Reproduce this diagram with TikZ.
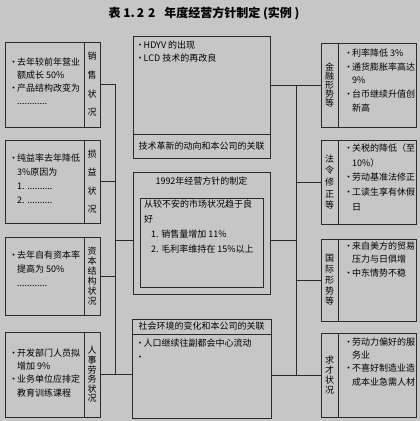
\documentclass[tikz,border=0pt]{standalone}
\usepackage{fontspec}
\setmainfont{Noto Sans CJK SC}
\newcommand\bl{\makebox[7pt][c]{·}}
\newcommand\hg{\hspace*{7pt}}
\newcommand\tightlines{\lineskiplimit=-10pt\relax}
\definecolor{bg}{HTML}{C6C6C6}
\definecolor{ln}{HTML}{2A2A2A}
\tikzset{
  bx/.style={draw=ln, line width=0.8pt, rectangle, inner sep=0pt},
  txt/.style={anchor=north west, align=left, inner sep=0pt},
  lab/.style={bx, align=center},
  con/.style={draw=ln, line width=0.8pt},
  fs/.style={font={\fontsize{9}{#1}\selectfont\tightlines}}
}
\begin{document}
\begin{tikzpicture}[x=1pt,y=-1pt]
\fill[bg] (0,0) rectangle (420,421);
\useasboundingbox (0,0) rectangle (420,421);

\node[font=\fontsize{12}{14}\selectfont\bfseries, inner sep=0pt] (title) at (204,13) {表 1.\,2\,\,2\hspace{9pt}年度经营方针制定 (实例 )};

% left boxes
\node[bx, minimum width=79pt, minimum height=85pt] (L1t) at (44.5,84.5) {};
\node[lab, minimum width=16pt, minimum height=85pt, fs=18.7] (L1l) at (92,84.5) {销\\售\\状\\况};
\node[txt, fs=13] (L1x) at (10,57.5) {\bl 去年较前年营业\\\hg 额成长 50\%\\\bl 产品结构改变为\\\hg ............};

\node[bx, minimum width=79pt, minimum height=83pt] (L2t) at (44.5,181.5) {};
\node[lab, minimum width=16pt, minimum height=83pt, fs=18.3] (L2l) at (92,181.5) {损\\益\\状\\况};
\node[txt, fs=14] (L2x) at (10,153.5) {\bl 纯益率去年降低\\\hg 3\%原因为\\\hg 1. ..........\\\hg 2. ..........};

\node[bx, minimum width=79pt, minimum height=78pt] (L3t) at (44.5,276) {};
\node[lab, minimum width=16pt, minimum height=78pt, fs=10] (L3l) at (92,276) {资\\本\\结\\构\\状\\况};
\node[txt, fs=14] (L3x) at (10,250.5) {\bl 去年自有资本率\\\hg 提高为 50\%\\\hg ............};

\node[bx, minimum width=79pt, minimum height=85pt] (L4t) at (44.5,374.5) {};
\node[lab, minimum width=16pt, minimum height=85pt, fs=9.6] (L4l) at (92,374.5) {人\\事\\劳\\务\\状\\况};
\node[txt, fs=13.3] (L4x) at (10,348.5) {\bl 开发部门人员拟\\\hg 增加 9\%\\\bl 业务单位应排定\\\hg 教育训练课程};

% right boxes
\node[lab, minimum width=17pt, minimum height=84pt, fs=8.8] (R1l) at (329.5,85) {金\\融\\形\\势\\等};
\node[bx, minimum width=78pt, minimum height=84pt] (R1t) at (377,85) {};
\node[txt, fs=13.7] (R1x) at (345,48.5) {\bl 利率降低 3\%\\\bl 通货膨胀率高达\\\hg 9\%\\\bl 台币继续升值创\\\hg 新高};

\node[lab, minimum width=17pt, minimum height=84pt, fs=11.7] (R2l) at (329.5,182) {法\\令\\修\\正\\等};
\node[bx, minimum width=78pt, minimum height=84pt] (R2t) at (377,182) {};
\node[txt, fs=14.7] (R2x) at (345,143.5) {\bl 关税的降低（至\\\hg 10\%）\\\bl 劳动基准法修正\\\bl 工读生享有休假\\\hg 日};

\node[lab, minimum width=17pt, minimum height=82pt, fs=10.8] (R3l) at (329.5,280) {国\\际\\形\\势\\等};
\node[bx, minimum width=78pt, minimum height=82pt] (R3t) at (377,280) {};
\node[txt, fs=13.5] (R3x) at (345,241.5) {\bl 来自美方的贸易\\\hg 压力与日俱增\\\bl 中东情势不稳};

\node[lab, minimum width=17pt, minimum height=84pt, fs=10] (R4l) at (329.5,375) {求\\才\\状\\况};
\node[bx, minimum width=78pt, minimum height=84pt] (R4t) at (377,375) {};
\node[txt, fs=13.3] (R4x) at (345,337.5) {\bl 劳动力偏好的服\\\hg 务业\\\bl 不喜好制造业造\\\hg 成本业急需人材};

% centre column
\node[bx, minimum width=137pt, minimum height=98pt] (T1) at (201.5,85) {};
\node[bx, minimum width=137pt, minimum height=24pt, fs=11] (T2) at (201.5,146) {技术革新的动向和本公司的关联};
\node[txt, fs=13] (Tx) at (136.5,40.5) {\bl HDYV 的出现\\\bl LCD 技术的再改良};

\node[bx, minimum width=137pt, minimum height=122pt] (C) at (201.5,233) {};
\node[inner sep=0pt, fs=11] (Ct) at (201.5,181) {1992年经营方针的制定};
\node[bx, minimum width=123pt, minimum height=89pt] (CI) at (201.5,242.5) {};
\node[txt, fs=15] (Cx) at (144,199.5) {从较不安的市场状况趋于良\\好\\\hspace*{7pt}1. 销售量增加 11\%\\\hspace*{7pt}2. 毛利率维持在 15\%以上};

\node[bx, minimum width=139pt, minimum height=15pt, fs=11] (B1) at (201.5,326.5) {社会环境的变化和本公司的关联};
\node[bx, minimum width=139pt, minimum height=84pt] (B2) at (201.5,376) {};
\node[txt, fs=14] (Bx) at (136.5,338.5) {\bl 人口继续往副都会中心流动\\\bl};

% connectors
\coordinate (lbus) at (115,0);
\coordinate (rbus) at (296,0);
\draw[con] (L1l.east) -- (L1l.east -| lbus) -- (L4l.east -| lbus);
\draw[con] (L2l.east) -- (L2l.east -| lbus);
\draw[con] (L3l.east) -- (L3l.east -| lbus);
\draw[con] (L4l.east) -- (L4l.east -| B2.west);
\draw[con] ([yshift=-7pt]C.west) -- ([yshift=-7pt]C.west -| lbus);

\draw[con] (R1l.west) -- (R1l.west -| rbus) -- (R4l.west -| rbus);
\draw[con] (R1l.west -| T1.east) -- (R1l.west -| rbus);
\draw[con] (R2l.west) -- (R2l.west -| rbus);
\draw[con] (R3l.west) -- (R3l.west -| rbus);
\draw[con] (R4l.west) -- (R4l.west -| B2.east);
\draw[con] ([yshift=-7pt]C.east) -- ([yshift=-7pt]C.east -| rbus);
\end{tikzpicture}
\end{document}
